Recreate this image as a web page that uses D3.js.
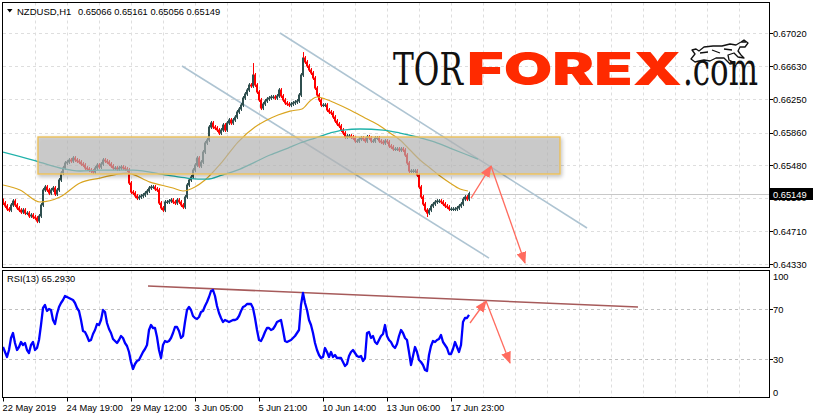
<!DOCTYPE html>
<html><head><meta charset="utf-8">
<script src="https://cdn.jsdelivr.net/npm/d3@7/dist/d3.min.js"></script>
<style>body{margin:0;background:#fff}svg{display:block}text{font-family:"Liberation Sans",Arial,sans-serif}</style>
</head><body><svg id="c" width="815" height="419"></svg>
<script>
// ---------- DATA ----------
const symbolText = "NZDUSD,H1";
const ohlcText = "0.65066 0.65161 0.65056 0.65149";
const lastPrice = 0.65149;
const rsiLabel = "RSI(13) 65.2930";
const priceTicks = [0.67020, 0.66630, 0.66250, 0.65860, 0.65480, 0.65100, 0.64710, 0.64330];
const rsiLevels = [70, 30];
const rsiTicks = [100, 70, 30, 0];
const timeLabels = ["22 May 2019", "24 May 19:00", "29 May 12:00", "3 Jun 05:00", "5 Jun 21:00", "10 Jun 14:00", "13 Jun 06:00", "17 Jun 23:00"];
const timeLabelBars = [0, 64, 128, 192, 256, 320, 384, 448];
const barStep = 2; // one sample every 2 H1 bars
const closes = [
0.65040,0.65005,0.64970,0.64958,0.65017,0.65063,0.65017,0.64982,0.64958,0.64935,
0.64958,0.64923,0.64923,0.64889,0.64900,0.64877,0.64865,0.64830,0.64889,0.65017,
0.65192,0.65227,0.65192,0.65156,0.65192,0.65215,0.65145,0.65192,0.65308,0.65389,
0.65448,0.65506,0.65517,0.65541,0.65529,0.65564,0.65541,0.65529,0.65517,0.65494,
0.65482,0.65448,0.65436,0.65424,0.65413,0.65401,0.65448,0.65482,0.65459,0.65494,
0.65541,0.65529,0.65517,0.65494,0.65471,0.65448,0.65448,0.65436,0.65448,0.65459,
0.65448,0.65436,0.65424,0.65273,0.65168,0.65156,0.65122,0.65098,0.65110,0.65122,
0.65133,0.65156,0.65180,0.65215,0.65227,0.65227,0.65203,0.65192,0.65040,0.64982,
0.64958,0.65052,0.65052,0.65063,0.65075,0.65052,0.65040,0.65075,0.65052,0.65017,
0.64993,0.65110,0.65250,0.65308,0.65343,0.65424,0.65482,0.65564,0.65471,0.65517,
0.65634,0.65739,0.65774,0.65925,0.65972,0.65925,0.65913,0.65890,0.65855,0.65890,
0.65948,0.65890,0.65972,0.66007,0.65972,0.66007,0.66041,0.66100,0.66135,0.66181,
0.66263,0.66310,0.66356,0.66414,0.66403,0.66531,0.66414,0.66333,0.66240,0.66146,
0.66193,0.66228,0.66251,0.66263,0.66275,0.66275,0.66263,0.66286,0.66356,0.66286,
0.66240,0.66205,0.66193,0.66181,0.66193,0.66205,0.66216,0.66228,0.66298,0.66531,
0.66729,0.66682,0.66636,0.66589,0.66554,0.66496,0.66379,0.66298,0.66240,0.66181,
0.66181,0.66181,0.66123,0.66100,0.66088,0.66041,0.65995,0.65960,0.65937,0.65890,
0.65855,0.65809,0.65820,0.65820,0.65809,0.65797,0.65762,0.65762,0.65785,0.65797,
0.65785,0.65762,0.65809,0.65797,0.65762,0.65762,0.65797,0.65797,0.65762,0.65750,
0.65739,0.65762,0.65750,0.65704,0.65692,0.65669,0.65669,0.65669,0.65657,0.65669,
0.65657,0.65599,0.65506,0.65413,0.65413,0.65413,0.65413,0.65366,0.65227,0.65110,
0.65028,0.64958,0.64923,0.64958,0.65005,0.65028,0.65052,0.65063,0.65063,0.65052,
0.65028,0.65005,0.64993,0.64970,0.64970,0.64970,0.64970,0.64982,0.65005,0.65028,
0.65086,0.65110,0.65086,0.65149];
const firstOpen = 0.65070;
const wickSpikes = [[34, 0.64807], [160, 0.64935], [250, 0.66670], [300, 0.66798], [424, 0.64877]];
const rsiValues = [
39.6,35.6,31.6,37.2,46.8,50.8,42.8,37.2,39.6,43.6,
41.2,42.8,37.2,34.8,41.2,43.6,37.2,38.8,45.2,57.2,
70.8,73.2,68.4,70.0,69.2,61.2,58.0,66.0,71.6,74.8,
77.2,80.4,79.6,78.8,78.0,77.2,74.8,70.8,68.4,61.2,
52.4,51.6,48.4,44.4,45.2,50.0,53.2,58.0,57.2,61.2,
69.2,67.6,58.8,54.0,50.8,46.0,44.4,42.8,45.2,48.4,
46.8,42.8,40.4,35.6,27.6,22.0,26.0,28.4,29.2,32.4,
35.6,38.0,41.2,53.2,57.2,54.8,54.8,47.6,37.2,30.8,
41.2,44.4,43.6,44.4,46.8,50.8,55.6,55.6,52.4,46.8,
48.4,59.6,69.2,71.6,69.2,64.4,62.8,62.0,63.6,67.6,
68.4,72.4,75.6,79.6,84.4,85.2,80.4,72.4,66.8,62.8,
59.6,61.2,60.4,59.6,60.4,61.2,61.2,62.0,64.4,68.4,
71.6,72.4,74.0,74.0,74.0,70.8,62.8,53.2,45.2,44.4,
47.6,51.6,54.8,54.8,53.2,54.0,56.4,59.6,60.4,61.2,
53.2,44.4,43.6,44.4,45.2,46.8,48.4,50.8,53.2,73.2,
82.8,74.8,69.2,61.2,57.2,50.8,42.8,37.2,33.2,30.8,
31.6,38.8,35.6,31.6,35.6,31.6,33.2,30.8,30.8,30.8,
27.6,24.4,26.0,32.4,35.6,37.2,34.8,32.4,31.6,32.4,
28.4,30.8,50.8,51.6,46.8,48.4,43.6,42.0,45.2,48.4,
50.0,57.2,48.4,45.2,43.6,40.4,38.8,42.0,48.4,53.2,
50.8,46.8,45.2,35.6,25.2,32.4,39.6,35.6,29.2,27.6,
25.2,21.2,20.4,33.2,40.4,44.4,43.6,45.2,46.0,49.2,
43.6,41.2,38.8,34.0,34.0,38.0,43.6,39.6,35.6,41.2,
59.6,62.8,62.8,65.29];
// moving averages: [bar, price]
const maFast = [[0,0.65250],[17,0.65192],[37,0.65052],[57,0.65110],[77,0.65273],[97,0.65331],[124,0.65389],[147,0.65284],[170,0.65215],[180,0.65180],[192,0.65227],[202,0.65308],[219,0.65517],[235,0.65750],[252,0.65925],[262,0.65995],[275,0.66065],[287,0.66111],[299,0.66135],[307,0.66228],[314,0.66275],[322,0.66251],[332,0.66205],[347,0.66123],[362,0.66030],[377,0.65937],[387,0.65855],[397,0.65774],[407,0.65657],[417,0.65541],[427,0.65448],[437,0.65354],[447,0.65273],[457,0.65203],[465,0.65180]];
const maSlow = [[0,0.65634],[30,0.65541],[57,0.65448],[77,0.65413],[97,0.65424],[130,0.65424],[164,0.65366],[184,0.65331],[195,0.65319],[204,0.65319],[219,0.65366],[237,0.65436],[252,0.65517],[267,0.65599],[285,0.65680],[297,0.65739],[312,0.65797],[327,0.65855],[340,0.65890],[357,0.65902],[380,0.65890],[397,0.65855],[414,0.65809],[432,0.65750],[447,0.65680],[462,0.65611],[475,0.65552]];
// drawn objects: [bar, price] / [bar, rsi]
const channelUpper = [[277, 0.67020], [584, 0.64749]];
const channelLower = [[179, 0.66636], [486, 0.64399]];
const zoneBars = [35, 557];
const zonePrices = [0.65809, 0.65378];
const priceArrowUp = [[468, 0.65098], [488, 0.65471]];
const priceArrowDown = [[488, 0.65471], [522, 0.64341]];
const rsiTrend = [[145, 88.4], [635, 71.6]];
const rsiArrowUp = [[467, 58.8], [483, 76.4]];
const rsiArrowDown = [[483, 76.4], [507, 26.8]];
const logoParts = ["TOR", "FOREX", ".com"];

// ---------- LAYOUT ----------
const svg = d3.select("#c");
const L = 3, R = 769, mainTop = 2.5, mainBot = 267.5, rsiTop = 270.5, rsiBot = 397.5;
const x = d3.scaleLinear().domain([0, 766]).range([L, R]);
const y = d3.scaleLinear().domain([0.64330, 0.67020]).range([264, 33]);
const yr = d3.scaleLinear().domain([0, 100]).range([396.5, 271.5]);

const defs = svg.append("defs");
defs.append("clipPath").attr("id", "cm").append("rect").attr("x", L).attr("y", mainTop + 0.5).attr("width", R - L).attr("height", mainBot - mainTop - 1);
defs.append("clipPath").attr("id", "cr").append("rect").attr("x", L).attr("y", rsiTop + 0.5).attr("width", R - L).attr("height", rsiBot - rsiTop - 1);
const f = defs.append("filter").attr("id", "sh").attr("x", "-5%").attr("y", "-30%").attr("width", "110%").attr("height", "160%");
f.append("feGaussianBlur").attr("in", "SourceAlpha").attr("stdDeviation", 2).attr("result", "b");
f.append("feOffset").attr("dx", 1).attr("dy", 2).attr("result", "o");
f.append("feComponentTransfer").append("feFuncA").attr("type", "linear").attr("slope", 0.35);
const fm = f.append("feMerge"); fm.append("feMergeNode"); fm.append("feMergeNode").attr("in", "SourceGraphic");
defs.append("marker").attr("id", "ah").attr("viewBox", "0 0 12 10").attr("refX", 11).attr("refY", 5)
  .attr("markerWidth", 12).attr("markerHeight", 10).attr("markerUnits", "userSpaceOnUse").attr("orient", "auto")
  .append("path").attr("d", "M0,0 L12,5 L0,10 Z").attr("fill", "#ff6b5e");

// grid
const gridColor = "#dedede";
const vgrid = d3.range(1, 24).map(k => k * 32);
const gm = svg.append("g").attr("clip-path", "url(#cm)");
gm.selectAll("line.v").data(vgrid).join("line").attr("x1", d => x(d) + 0.5).attr("x2", d => x(d) + 0.5)
  .attr("y1", mainTop).attr("y2", mainBot).attr("stroke", gridColor).attr("stroke-dasharray", "3,3");
gm.selectAll("line.h").data(priceTicks).join("line").attr("x1", L).attr("x2", R)
  .attr("y1", d => Math.round(y(d)) + 0.5).attr("y2", d => Math.round(y(d)) + 0.5).attr("stroke", gridColor).attr("stroke-dasharray", "3,3");
const gr = svg.append("g").attr("clip-path", "url(#cr)");
gr.selectAll("line.v").data(vgrid).join("line").attr("x1", d => x(d) + 0.5).attr("x2", d => x(d) + 0.5)
  .attr("y1", rsiTop).attr("y2", rsiBot).attr("stroke", gridColor).attr("stroke-dasharray", "3,3");
gr.selectAll("line.h").data(rsiLevels).join("line").attr("x1", L).attr("x2", R)
  .attr("y1", d => Math.round(yr(d)) + 0.5).attr("y2", d => Math.round(yr(d)) + 0.5).attr("stroke", "#c0c0c0").attr("stroke-dasharray", "3,3");

// logo (each word scaled horizontally into its box)
const logo = svg.append("g");
function fitWord(txt, x0, base, width, size, family, weight, color) {
  const g = logo.append("g");
  const t = g.append("text").attr("x", 0).attr("y", 0).style("font-family", family).attr("font-weight", weight)
    .attr("font-size", size).attr("fill", color).text(txt);
  const w = t.node().getComputedTextLength();
  g.attr("transform", `translate(${x0},${base}) scale(${width / w},1)`);
}
fitWord(logoParts[0], 393, 85, 70, 45, "'DejaVu Serif',serif", "normal", "#111");
fitWord(logoParts[1], 467, 85, 215, 45.5, "Inter,'Open Sans','DejaVu Sans',sans-serif", 900, "#ff2a00");
fitWord(logoParts[2], 683, 85, 75, 47, "'DejaVu Serif',serif", "normal", "#111");
logo.append("path").attr("d", "M691,59 L695,54 L692,50 L696,49 L699,51 L704,47 L713,46 L722,46 L730,44 L736,45 L741,42 L744,40 L748,43 L745,47 L740,47 L738,51 L741,55 L744,58 L738,57 L734,53 L728,55 L729,60 L735,63 L730,64 L724,58 L716,58 L710,61 L704,60 L699,61 L695,62 Z M700,53 L708,52 M712,50 L720,53 M724,49 L732,50 M741,42 L746,42")
  .attr("fill", "none").attr("stroke", "#111").attr("stroke-width", 1.3).attr("stroke-linejoin", "round");

// current price line
gm.append("line").attr("x1", L).attr("x2", R).attr("y1", Math.round(y(lastPrice)) + 0.5).attr("y2", Math.round(y(lastPrice)) + 0.5).attr("stroke", "#c8c8c8");

// channel lines
[channelUpper, channelLower].forEach(c => gm.append("line")
  .attr("x1", x(c[0][0])).attr("y1", y(c[0][1])).attr("x2", x(c[1][0])).attr("y2", y(c[1][1]))
  .attr("stroke", "#aec4d2").attr("stroke-width", 1.6));

// candles
const candles = closes.map((c, k) => ({ bar: k * barStep, o: k ? closes[k - 1] : firstOpen, c }));
const cg = gm.append("g");
cg.selectAll("line").data(candles).join("line")
  .attr("x1", d => x(d.bar) + 0.5).attr("x2", d => x(d.bar) + 0.5)
  .attr("y1", d => y(Math.max(d.o, d.c)) - 2).attr("y2", d => y(Math.min(d.o, d.c)) + 2)
  .attr("stroke", d => d.c >= d.o ? "#2f4f4f" : "#ff0000");
cg.selectAll("rect").data(candles).join("rect")
  .attr("x", d => x(d.bar) - 1).attr("width", 2)
  .attr("y", d => y(Math.max(d.o, d.c)) - 0.5)
  .attr("height", d => Math.max(1.5, Math.abs(y(d.o) - y(d.c)) + 1))
  .attr("fill", d => d.c >= d.o ? "#2f4f4f" : "#ff0000");
gm.append("g").selectAll("line").data(wickSpikes).join("line")
  .attr("x1", d => x(d[0]) + 0.5).attr("x2", d => x(d[0]) + 0.5)
  .attr("y1", d => y(d[1])).attr("y2", d => y(closes[Math.round(d[0] / barStep)]))
  .attr("stroke", "#ff0000").attr("stroke-width", 1);

// moving averages
const line = d3.line().x(d => x(d[0])).y(d => y(d[1])).curve(d3.curveMonotoneX);
gm.append("path").attr("d", line(maFast)).attr("fill", "none").attr("stroke", "#daa520").attr("stroke-width", 1.2);
gm.append("path").attr("d", line(maSlow)).attr("fill", "none").attr("stroke", "#20b2aa").attr("stroke-width", 1.3);

// zone rectangle
gm.append("rect").attr("x", x(zoneBars[0])).attr("y", y(zonePrices[0]))
  .attr("width", x(zoneBars[1]) - x(zoneBars[0])).attr("height", y(zonePrices[1]) - y(zonePrices[0]))
  .attr("fill", "rgb(186,186,186)").attr("fill-opacity", 0.6).attr("stroke", "#ecc05a").attr("stroke-width", 1.4)
  .attr("filter", "url(#sh)");

// arrows
function arrow(g, pts, sy) {
  g.append("line").attr("x1", x(pts[0][0])).attr("y1", sy(pts[0][1])).attr("x2", x(pts[1][0])).attr("y2", sy(pts[1][1]))
    .attr("stroke", "#ff6b5e").attr("stroke-width", 1.3).attr("marker-end", "url(#ah)");
}
arrow(gm, priceArrowUp, y); arrow(gm, priceArrowDown, y);

// RSI
gr.append("line").attr("x1", x(rsiTrend[0][0])).attr("y1", yr(rsiTrend[0][1])).attr("x2", x(rsiTrend[1][0])).attr("y2", yr(rsiTrend[1][1]))
  .attr("stroke", "#a65a5a").attr("stroke-width", 1.6);
const rline = d3.line().x((d, k) => x(k * barStep)).y(d => yr(d));
gr.append("path").attr("d", rline(rsiValues)).attr("fill", "none").attr("stroke", "#0000ff").attr("stroke-width", 2.3).attr("stroke-linejoin", "round");
arrow(gr, rsiArrowUp, yr); arrow(gr, rsiArrowDown, yr);

// frames
svg.append("rect").attr("x", 2.5).attr("y", mainTop).attr("width", R + 0.5 - 2.5).attr("height", mainBot - mainTop).attr("fill", "none").attr("stroke", "#000");
svg.append("rect").attr("x", 2.5).attr("y", rsiTop).attr("width", R + 0.5 - 2.5).attr("height", rsiBot - rsiTop).attr("fill", "none").attr("stroke", "#000");

// price axis
const pa = svg.append("g");
pa.selectAll("line").data(priceTicks).join("line").attr("x1", R).attr("x2", R + 4)
  .attr("y1", d => Math.round(y(d)) + 0.5).attr("y2", d => Math.round(y(d)) + 0.5).attr("stroke", "#000");
pa.selectAll("text").data(priceTicks.filter(p => p !== 0.65100)).join("text").attr("x", 773).attr("y", d => y(d) + 3.5)
  .attr("font-size", 9.3).attr("fill", "#000").text(d => d.toFixed(5));
const yl = Math.round(y(lastPrice));
// partially covered 0.65100 label, clipped below the current-price box
defs.append("clipPath").attr("id", "cb").append("rect").attr("x", 770).attr("y", yl + 6).attr("width", 45).attr("height", 10);
pa.append("text").attr("clip-path", "url(#cb)").attr("x", 773).attr("y", y(0.65100) + 3.5).attr("font-size", 9.3).text((0.65100).toFixed(5));
pa.append("rect").attr("x", 770).attr("y", yl - 6).attr("width", 43).attr("height", 12).attr("fill", "#000");
pa.append("text").attr("x", 773).attr("y", yl + 4).attr("font-size", 9.3).attr("fill", "#fff").text(lastPrice.toFixed(5));

// rsi axis
const ra = svg.append("g");
ra.selectAll("line").data(rsiLevels).join("line").attr("x1", R).attr("x2", R + 4)
  .attr("y1", d => Math.round(yr(d)) + 0.5).attr("y2", d => Math.round(yr(d)) + 0.5).attr("stroke", "#000");
ra.selectAll("text").data(rsiTicks).join("text").attr("x", 773)
  .attr("y", d => Math.min(395.5, Math.max(279.5, yr(d) + 3.5))).attr("font-size", 9.3).text(d => d);

// time axis
const ta = svg.append("g");
ta.selectAll("line").data(timeLabelBars).join("line").attr("x1", d => x(d) + 0.5).attr("x2", d => x(d) + 0.5)
  .attr("y1", rsiBot).attr("y2", rsiBot + 4).attr("stroke", "#000");
ta.selectAll("text").data(timeLabels).join("text").attr("x", (d, i) => x(timeLabelBars[i]) - 0.5).attr("y", 411)
  .attr("font-size", 9.3).text(d => d);

// titles
svg.append("path").attr("d", "M7,9 L12.5,9 L9.75,12.5 Z").attr("fill", "#000");
svg.append("text").attr("x", 17).attr("y", 14.5).attr("font-size", 9.5).text(symbolText);
svg.append("text").attr("x", 78).attr("y", 14.5).attr("font-size", 9.3).text(ohlcText);
svg.append("text").attr("x", 7).attr("y", 281.5).attr("font-size", 9.3).text(rsiLabel);
</script></body></html>
